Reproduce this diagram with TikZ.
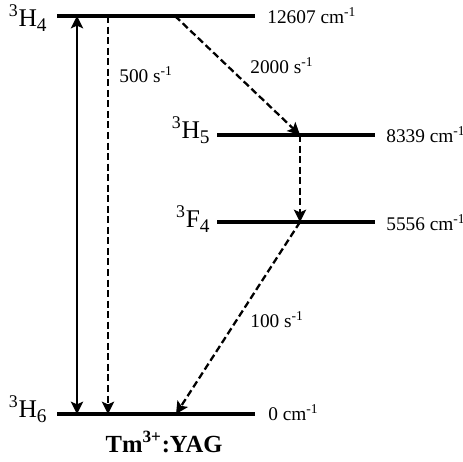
\documentclass[tikz,border=0pt]{standalone}
\usepackage{fontspec}
\setmainfont{Liberation Serif}
\usetikzlibrary{arrows.meta}
\newcommand{\lvl}[2]{\textsuperscript{#1}#2}
\tikzset{
  level/.style={line width=2pt},
  tip/.style={-{Stealth[length=7pt,width=7pt,inset=1.5pt]}},
  decay/.style={line width=1.3pt, dash pattern=on 4pt off 2pt, tip},
  pump/.style={line width=1.3pt, {Stealth[length=7pt,width=7pt,inset=1.5pt]}-{Stealth[length=7pt,width=7pt,inset=1.5pt]}},
  term/.style={font=\fontsize{14.5}{16}\selectfont, inner sep=0pt},
  energy/.style={font=\fontsize{11}{13}\selectfont, inner sep=0pt},
}
\begin{document}
\begin{tikzpicture}[x=0.02cm, y=-0.02cm]
  \useasboundingbox (0,0) rectangle (463,461);
  \coordinate (H4a) at (57,16);   \coordinate (H4b) at (255,16);
  \coordinate (H5a) at (217,135); \coordinate (H5b) at (375,135);
  \coordinate (F4a) at (217,222); \coordinate (F4b) at (375,222);
  \coordinate (H6a) at (57,414);  \coordinate (H6b) at (255,414);
  \draw[level] (H4a) -- (H4b);
  \draw[level] (H5a) -- (H5b);
  \draw[level] (F4a) -- (F4b);
  \draw[level] (H6a) -- (H6b);
  \node[term, anchor=base east] (tH4) at (47,26) {\lvl{3}{H}\raisebox{-0.45ex}{\fontsize{11}{13}\selectfont 4}};
  \node[term, anchor=base east] (tH5) at (210,138) {\lvl{3}{H}\raisebox{-0.45ex}{\fontsize{11}{13}\selectfont 5}};
  \node[term, anchor=base east] (tF4) at (210,227) {\lvl{3}{F}\raisebox{-0.45ex}{\fontsize{11}{13}\selectfont 4}};
  \node[term, anchor=base east] (tH6) at (47,417) {\lvl{3}{H}\raisebox{-0.45ex}{\fontsize{11}{13}\selectfont 6}};
  \node[energy, anchor=base west] (eH4) at (267,23) {12607 cm\textsuperscript{-1}};
  \node[energy, anchor=base west] (eH5) at (386,142) {8339 cm\textsuperscript{-1}};
  \node[energy, anchor=base west] (eF4) at (386,230) {5556 cm\textsuperscript{-1}};
  \node[energy, anchor=base west] (eH6) at (268,420) {0 cm\textsuperscript{-1}};
  \coordinate (p1) at (77,16);   \coordinate (p2) at (77,414);
  \coordinate (r1) at (108,16);  \coordinate (r2) at (108,414);
  \coordinate (s1) at (175,16);  \coordinate (s2) at (300,135);
  \coordinate (s3) at (300,222); \coordinate (s4) at (176,414);
  \draw[pump] (p2) -- (p1);
  \draw[decay] (r1) -- (r2);
  \draw[decay] (s1) -- (s2);
  \draw[decay] (s2) -- (s3);
  \draw[decay] (s3) -- (s4);
  \node[energy, anchor=base west] (k1) at (119,82) {500 s\textsuperscript{-1}};
  \node[energy, anchor=base west] (k2) at (250,73) {2000 s\textsuperscript{-1}};
  \node[energy, anchor=base west] (k3) at (250,327) {100 s\textsuperscript{-1}};
  \node[font=\fontsize{14}{16}\selectfont\bfseries, anchor=base] (name) at (164,452) {Tm\textsuperscript{3+}:YAG};
\end{tikzpicture}
\end{document}
